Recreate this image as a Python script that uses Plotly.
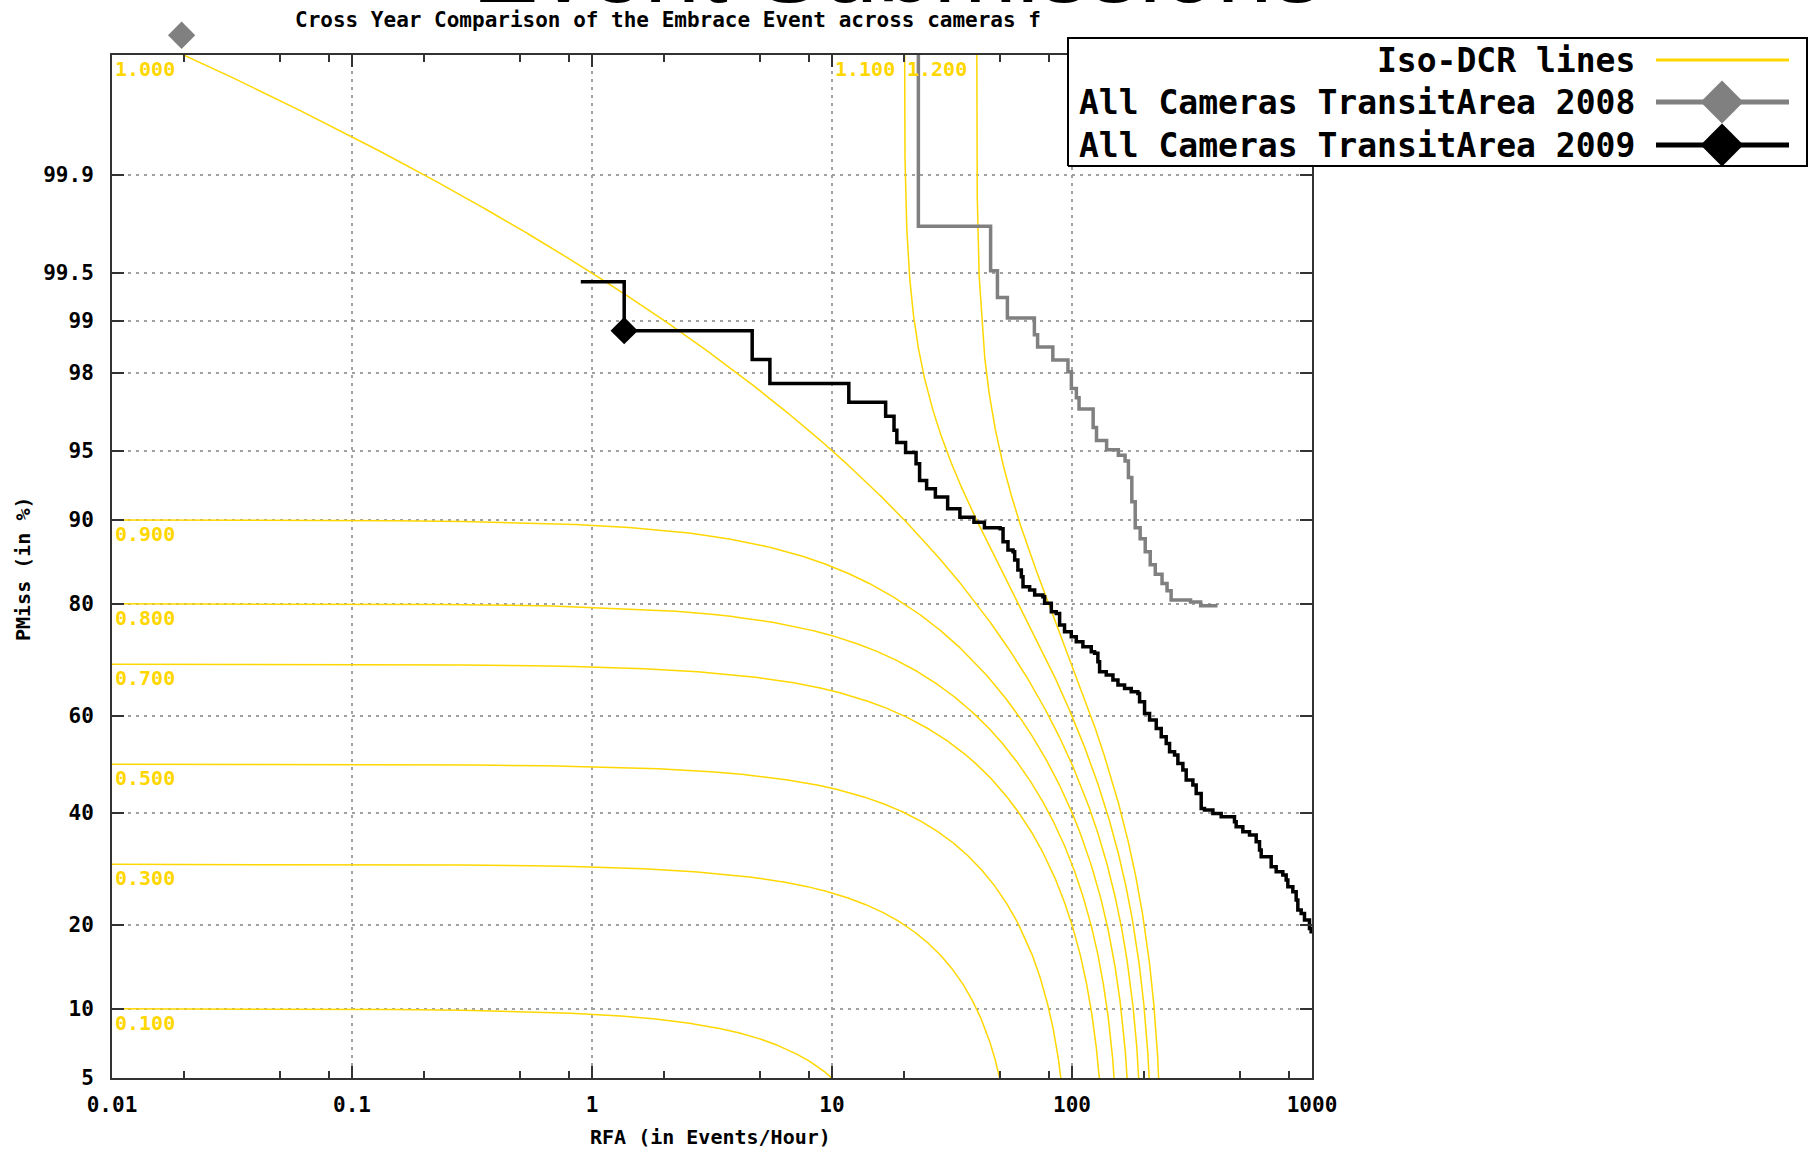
import numpy as np
import plotly.graph_objects as go
from statistics import NormalDist

W, H = 1816, 1149
_norm = NormalDist()


def probit(p):
    """Normal deviate of a probability (DET-curve y scale)."""
    return [_norm.inv_cdf(float(v)) for v in np.atleast_1d(p)]


# ---------------------------------------------------------------- data
BETA = 0.005  # DCR = PMiss + BETA * RFA

iso_dcr = [0.1, 0.3, 0.5, 0.7, 0.8, 0.9, 1.0, 1.1, 1.2]
iso_label_rfa = [0.01, 0.01, 0.01, 0.01, 0.01, 0.01, 0.01, 10, 20]

rfa_2008 = [0.0195, 22.9, 45.8, 48.9, 53.8, 69.7, 71.9, 83.2, 96.2, 99.4,
            104.3, 107.0, 122.5, 126.5, 139.4, 156.0, 166.4, 171.8, 177.5, 183.4,
            192.3, 201.9, 211.8, 222.3, 237.2, 248.9, 258.8, 311.9, 343.6, 397.2]
pmiss_2008 = [99.9934, 99.761, 99.517, 99.280, 99.036, 98.786, 98.568, 98.301, 98.021, 97.560,
              97.268, 96.879, 96.130, 95.523, 95.045, 94.738, 94.417, 93.361, 91.568, 89.258,
              88.140, 86.733, 85.214, 84.062, 82.854, 81.846, 80.533, 80.264, 79.719, 79.443]

rfa_2009 = [0.898, 1.362, 4.65, 5.51, 11.75, 16.73, 18.13, 18.63, 20.26, 22.40,
            23.17, 24.79, 26.96, 30.33, 34.11, 39.02, 43.15, 50.2, 51.6, 54.1,
            56.8, 57.7, 59.5, 61.5, 62.5, 66.6, 69.9, 75.6, 76.9, 82.0,
            86.0, 88.8, 93.1, 99.3, 104.2, 111.0, 120.3, 124.2, 128.2, 130.3,
            138.9, 148.1, 155.4, 165.6, 176.5, 188.2, 191.2, 200.6, 210.5, 224.4,
            235.4, 246.9, 255.0, 267.5, 276.2, 289.7, 299.1, 318.9, 329.2, 345.4,
            356.6, 386.4, 418.4, 475.4, 483.1, 515.0, 549.1, 585.4, 604.4, 614.1,
            654.6, 676.0, 709.2, 756.0, 780.5, 793.2, 832.1, 859.1, 873.0, 901.3,
            930.6, 976.1, 991.8]
pmiss_2009 = [99.43, 98.85, 98.31, 97.71, 97.12, 96.60, 96.01, 95.42, 94.89, 94.25,
              93.17, 92.58, 91.94, 90.98, 90.25, 89.79, 89.25, 89.15, 87.84, 86.93,
              86.75, 85.79, 84.58, 83.73, 82.41, 81.95, 81.26, 81.02, 80.06, 78.81,
              78.56, 76.73, 75.65, 74.82, 73.98, 73.12, 72.25, 71.96, 70.46, 68.63,
              68.01, 67.06, 66.11, 65.47, 64.82, 64.49, 62.85, 60.52, 59.17, 57.46,
              55.74, 54.36, 52.62, 51.93, 50.19, 48.79, 46.70, 45.66, 43.94, 40.85,
              40.52, 39.84, 39.17, 38.16, 37.17, 36.18, 35.53, 34.23, 32.64, 31.39,
              31.39, 29.56, 28.66, 28.07, 27.19, 26.04, 25.20, 23.82, 22.23, 21.71,
              20.70, 19.47, 18.76]

ytick_pct = [5, 10, 20, 40, 60, 80, 90, 95, 98, 99, 99.5, 99.9]
ytick_text = ["5", "10", "20", "40", "60", "80", "90", "95", "98", "99", "99.5", "99.9"]
xtick_vals = [0.01, 0.1, 1, 10, 100, 1000]
xtick_text = ["0.01", "0.1", "1", "10", "100", "1000"]
x_minor = [m * 10.0 ** e for e in range(-2, 3) for m in (2, 5, 8)]

y_lo_pct, y_hi_pct = 5.0, 99.99

series_names = ["All Cameras TransitArea 2008", "All Cameras TransitArea 2009"]
series_colors = ["#808080", "#000000"]

# ---------------------------------------------------------------- styling
GOLD = "#ffd700"
MONO = "DejaVu Sans Mono"
AXIS_COL = "#333333"

Z_LO = probit(y_lo_pct / 100)[0]
Z_HI = probit(y_hi_pct / 100)[0]


# page-pixel layout helpers (paper spans the whole page)
def pxx(x):
    return x / W


def pxy(y):
    return 1 - y / H


PLOT_L, PLOT_R, PLOT_T, PLOT_B = 112, 1312, 55, 1078
# same vertical scale as the plot, but reaching the top of the page, so that
# operating points lying above the plotted range are still drawn
Z_PAGE_TOP = Z_LO + (Z_HI - Z_LO) * PLOT_B / (PLOT_B - PLOT_T)

fig = go.Figure()

# ---------------------------------------------------------------- iso-DCR lines
z_dense = np.linspace(Z_LO - 0.4, Z_HI + 0.6, 900)
p_dense = np.array([_norm.cdf(v) for v in z_dense])
rfa_grid = np.geomspace(0.01, 1000, 2500)
for d in iso_dcr:
    rfa_b = (d - p_dense) / BETA
    rfa_all = np.unique(np.concatenate([rfa_grid, rfa_b[(rfa_b > 0.005) & (rfa_b < 2000)]]))
    p = d - BETA * rfa_all
    keep = (p > 1e-4) & (p < 1 - 1e-7)
    fig.add_trace(go.Scatter(
        x=rfa_all[keep], y=probit(p[keep]), mode="lines",
        line=dict(color=GOLD, width=1.5), hoverinfo="skip", showlegend=False,
        xaxis="x", yaxis="y"))

# ---------------------------------------------------------------- DET curves
for rfa, pm, name, col in [(rfa_2008, pmiss_2008, series_names[0], series_colors[0]),
                           (rfa_2009, pmiss_2009, series_names[1], series_colors[1])]:
    rfa_a = np.array(rfa)
    p_a = np.array(pm) / 100
    fig.add_trace(go.Scatter(
        x=rfa_a, y=probit(p_a), mode="lines", line=dict(color=col, width=3.5, shape="hv"),
        name=name, showlegend=False, xaxis="x", yaxis="y"))
    k = int(np.argmin(p_a + BETA * rfa_a))  # minimum-DCR operating point
    fig.add_trace(go.Scatter(
        x=[rfa_a[k]], y=probit(p_a[k]), mode="markers",
        marker=dict(symbol="diamond", size=21, color=col),
        cliponaxis=False, showlegend=False, hoverinfo="skip", xaxis="x3", yaxis="y3"))

# ---------------------------------------------------------------- key box (page-level overlay axes)
kx0, kx1, ky0, ky1 = pxx(1068), pxx(1807), pxy(166), pxy(38)
fig.add_trace(go.Scatter(
    x=[kx0, kx1, kx1, kx0, kx0], y=[ky0, ky0, ky1, ky1, ky0], mode="lines",
    fill="toself", fillcolor="white", line=dict(color="black", width=2),
    hoverinfo="skip", showlegend=False, xaxis="x2", yaxis="y2"))

key_rows = [pxy(60), pxy(102), pxy(145)]
key_labels = ["Iso-DCR lines"] + series_names
key_colors = [GOLD] + series_colors
sx0, sx1, sxm = pxx(1656), pxx(1789), pxx(1722)
for i, (ry, lab, col) in enumerate(zip(key_rows, key_labels, key_colors)):
    fig.add_trace(go.Scatter(
        x=[sx0, sx1], y=[ry, ry], mode="lines",
        line=dict(color=col, width=3 if i == 0 else 5),
        hoverinfo="skip", showlegend=False, xaxis="x2", yaxis="y2"))
    if i > 0:
        fig.add_trace(go.Scatter(
            x=[sxm], y=[ry], mode="markers",
            marker=dict(symbol="diamond", size=33, color=col),
            hoverinfo="skip", showlegend=False, xaxis="x2", yaxis="y2"))
    fig.add_annotation(
        x=pxx(1637), y=ry, xref="paper", yref="paper", text=lab, showarrow=False,
        xanchor="right", yanchor="middle",
        font=dict(family=MONO, size=33, color="black", weight="bold"))

# ---------------------------------------------------------------- iso-DCR labels
for d, lx in zip(iso_dcr, iso_label_rfa):
    ly = probit(d)[0] if d < 1 else Z_HI
    fig.add_annotation(
        x=np.log10(lx), y=ly, xref="x", yref="y", text=f"{d:.3f}", showarrow=False,
        xanchor="left", yanchor="top", xshift=1, yshift=0,
        font=dict(family=MONO, size=20, color=GOLD, weight="bold"))

# ---------------------------------------------------------------- titles
fig.add_annotation(
    x=pxx(897), y=pxy(25), xref="paper", yref="paper", text="Event Submissions",
    showarrow=False, xanchor="center", yanchor="bottom",
    font=dict(family="Liberation Sans", size=100, color="black"))
fig.add_annotation(
    x=pxx(293), y=pxy(20), xref="paper", yref="paper",
    text="Cross Year Comparison of the Embrace Event across cameras f",
    showarrow=False, xanchor="left", yanchor="middle",
    font=dict(family=MONO, size=21, color="black", weight="bold"))
fig.add_annotation(
    x=pxx(710), y=pxy(1137), xref="paper", yref="paper", text="RFA (in Events/Hour)",
    showarrow=False, xanchor="center", yanchor="middle",
    font=dict(family=MONO, size=20, color="black", weight="bold"))
fig.add_annotation(
    x=pxx(23), y=pxy(569), xref="paper", yref="paper", text="PMiss (in %)",
    showarrow=False, xanchor="center", yanchor="middle", textangle=-90,
    font=dict(family=MONO, size=20, color="black", weight="bold"))

# ---------------------------------------------------------------- axes
tick_font = dict(family=MONO, size=21, color="black", weight="bold")
grid_kw = dict(showgrid=True, gridcolor="#a0a0a0", gridwidth=1.5, griddash="3px,5px")
frame_kw = dict(showline=True, linecolor=AXIS_COL, linewidth=2, mirror="ticks",
                ticks="inside", ticklen=12, tickwidth=2, tickcolor=AXIS_COL,
                zeroline=False, fixedrange=True, automargin=False)
hidden_kw = dict(visible=False, showgrid=False, fixedrange=True, automargin=False)

fig.update_layout(
    width=W, height=H, autosize=False,
    margin=dict(l=0, r=0, t=0, b=0, autoexpand=False),
    paper_bgcolor="white", plot_bgcolor="rgba(0,0,0,0)",
    showlegend=False,
    xaxis=dict(
        type="log", range=[-2, 3], domain=[pxx(PLOT_L), pxx(PLOT_R)], anchor="y",
        tickmode="array", tickvals=xtick_vals, ticktext=xtick_text,
        tickfont=tick_font, ticklabelstandoff=7,
        minor=dict(tickvals=x_minor, ticks="inside", ticklen=7, tickwidth=2,
                   tickcolor=AXIS_COL, showgrid=False),
        **grid_kw, **frame_kw),
    yaxis=dict(
        range=[Z_LO, Z_HI], domain=[pxy(PLOT_B), pxy(PLOT_T)], anchor="x",
        tickmode="array", tickvals=probit(np.array(ytick_pct) / 100), ticktext=ytick_text,
        tickfont=tick_font, ticklabelstandoff=12,
        **grid_kw, **frame_kw),
    xaxis2=dict(domain=[0, 1], range=[0, 1], anchor="y2", **hidden_kw),
    yaxis2=dict(domain=[0, 1], range=[0, 1], anchor="x2", **hidden_kw),
    xaxis3=dict(type="log", range=[-2, 3], domain=[pxx(PLOT_L), pxx(PLOT_R)],
                anchor="y3", **hidden_kw),
    yaxis3=dict(range=[Z_LO, Z_PAGE_TOP], domain=[pxy(PLOT_B), 1], anchor="x3", **hidden_kw),
)

fig.write_html("out.html")
